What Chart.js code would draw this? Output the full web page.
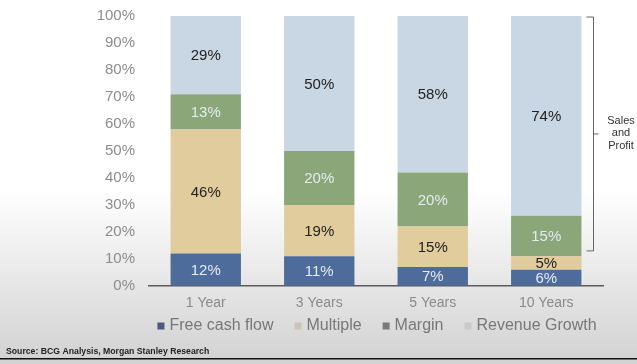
<!DOCTYPE html>
<html>
<head>
<meta charset="utf-8">
<script src="https://cdn.jsdelivr.net/npm/chart.js@4"></script>
<style>
  html, body { margin: 0; padding: 0; background: #fff; }
  #wrap { width: 637px; height: 364px; }
</style>
</head>
<body>
<div id="wrap"><canvas id="chart" width="637" height="364"></canvas></div>
<script>
const categories = ['1 Year', '3 Years', '5 Years', '10 Years'];
const seriesNames = ['Free cash flow', 'Multiple', 'Margin', 'Revenue Growth'];
const freeCashFlow = [12, 11, 7, 6];
const multiple = [46, 19, 15, 5];
const margin = [13, 20, 20, 15];
const revenueGrowth = [29, 50, 58, 74];
const yTicks = [0, 10, 20, 30, 40, 50, 60, 70, 80, 90, 100];
const bracketRange = [13, 100];
const bracketText = ['Sales', 'and', 'Profit'];
const sourceText = 'Source: BCG Analysis, Morgan Stanley Research';

const barColors = ['#4d6c9c', '#e1cc9d', '#8ba678', '#c9d6e3'];
const labelColors = ['#e4ebf2', '#222222', '#e4ebf2', '#222222'];
const legendColors = ['#4a5b7c', '#cbc5b7', '#7a7a7a', '#c9c9c9'];
const FONT = '"Liberation Sans", Arial, sans-serif';

const allData = [freeCashFlow, multiple, margin, revenueGrowth];

// background, bar labels, bracket, legend and source line
const extras = {
    id: 'extras',
    beforeDraw(chart) {
        const ctx = chart.ctx;
        const g = ctx.createLinearGradient(0, 190, 0, 358);
        g.addColorStop(0, '#ffffff');
        g.addColorStop(1, '#d3d3d3');
        ctx.save();
        ctx.fillStyle = g;
        ctx.fillRect(0, 0, chart.width, chart.height);
        ctx.restore();
    },
    afterDatasetsDraw(chart) {
        const ctx = chart.ctx;
        ctx.save();
        ctx.font = '15px ' + FONT;
        ctx.textAlign = 'center';
        ctx.textBaseline = 'middle';
        chart.data.datasets.forEach((ds, i) => {
            const meta = chart.getDatasetMeta(i);
            meta.data.forEach((bar, j) => {
                ctx.fillStyle = labelColors[i];
                ctx.fillText(ds.data[j] + '%', bar.x, (bar.y + bar.base) / 2 + 1);
            });
        });
        ctx.restore();
    },
    afterDraw(chart) {
        const ctx = chart.ctx;
        const area = chart.chartArea;
        const y = chart.scales.y;

        // bracket on the right
        const top = y.getPixelForValue(bracketRange[1]) + 1;
        const bottom = y.getPixelForValue(bracketRange[0]);
        const bx = area.right - 9.5;
        ctx.save();
        ctx.strokeStyle = '#666';
        ctx.lineWidth = 1;
        ctx.beginPath();
        ctx.moveTo(bx - 7, top);
        ctx.lineTo(bx, top);
        ctx.lineTo(bx, bottom);
        ctx.lineTo(bx - 7, bottom);
        const mid = (top + bottom) / 2;
        ctx.moveTo(bx, mid);
        ctx.lineTo(bx + 5, mid);
        ctx.stroke();

        ctx.fillStyle = '#333';
        ctx.font = '11px ' + FONT;
        ctx.textAlign = 'center';
        ctx.textBaseline = 'middle';
        bracketText.forEach((t, i) => {
            ctx.fillText(t, 621, mid - 13 + i * 12.5);
        });

        // legend
        ctx.font = '16px ' + FONT;
        ctx.textAlign = 'left';
        const box = 7, gap = 5, spacing = 21;
        let total = 0;
        seriesNames.forEach((n, i) => {
            total += box + gap + ctx.measureText(n).width + (i < seriesNames.length - 1 ? spacing : 0);
        });
        let x = (area.left + area.right) / 2 - total / 2 + 1;
        const ly = 326;
        seriesNames.forEach((n, i) => {
            ctx.fillStyle = legendColors[i];
            ctx.fillRect(x, ly - 3.5, box, box);
            ctx.fillStyle = '#777';
            ctx.fillText(n, x + box + gap, ly);
            x += box + gap + ctx.measureText(n).width + spacing;
        });

        // source and bottom rule
        ctx.fillStyle = '#222';
        ctx.font = 'bold 8.7px ' + FONT;
        ctx.fillText(sourceText, 6, 352);
        ctx.fillStyle = '#111';
        ctx.fillRect(0, 358, chart.width, 1.5);
        ctx.restore();
    }
};

new Chart(document.getElementById('chart'), {
    type: 'bar',
    data: {
        labels: categories,
        datasets: seriesNames.map((name, i) => ({
            label: name,
            data: allData[i],
            backgroundColor: barColors[i],
            borderWidth: 0,
            categoryPercentage: 0.62,
            barPercentage: 1
        }))
    },
    options: {
        responsive: false,
        animation: false,
        layout: { padding: { left: 0, right: 34, top: 16, bottom: 48 } },
        plugins: {
            legend: { display: false },
            tooltip: { enabled: false }
        },
        scales: {
            x: {
                stacked: true,
                grid: { display: false, drawTicks: false },
                border: { display: true, color: '#5a5a5a', width: 1.5 },
                ticks: { color: '#8a8a8a', font: { family: FONT, size: 14 }, padding: 9 },
                afterFit(scale) { scale.height = 30; }
            },
            y: {
                stacked: true,
                min: 0,
                max: 100,
                afterBuildTicks(scale) { scale.ticks = yTicks.map(v => ({ value: v })); },
                grid: { display: true, drawOnChartArea: false, drawTicks: true, tickLength: 14, color: 'rgba(0,0,0,0)' },
                border: { display: false },
                ticks: {
                    color: '#8c8c8c',
                    font: { family: FONT, size: 15 },
                    padding: 0,
                    callback: v => v + '%'
                },
                afterFit(scale) { scale.width = 149; }
            }
        }
    },
    plugins: [extras]
});
</script>
</body>
</html>
